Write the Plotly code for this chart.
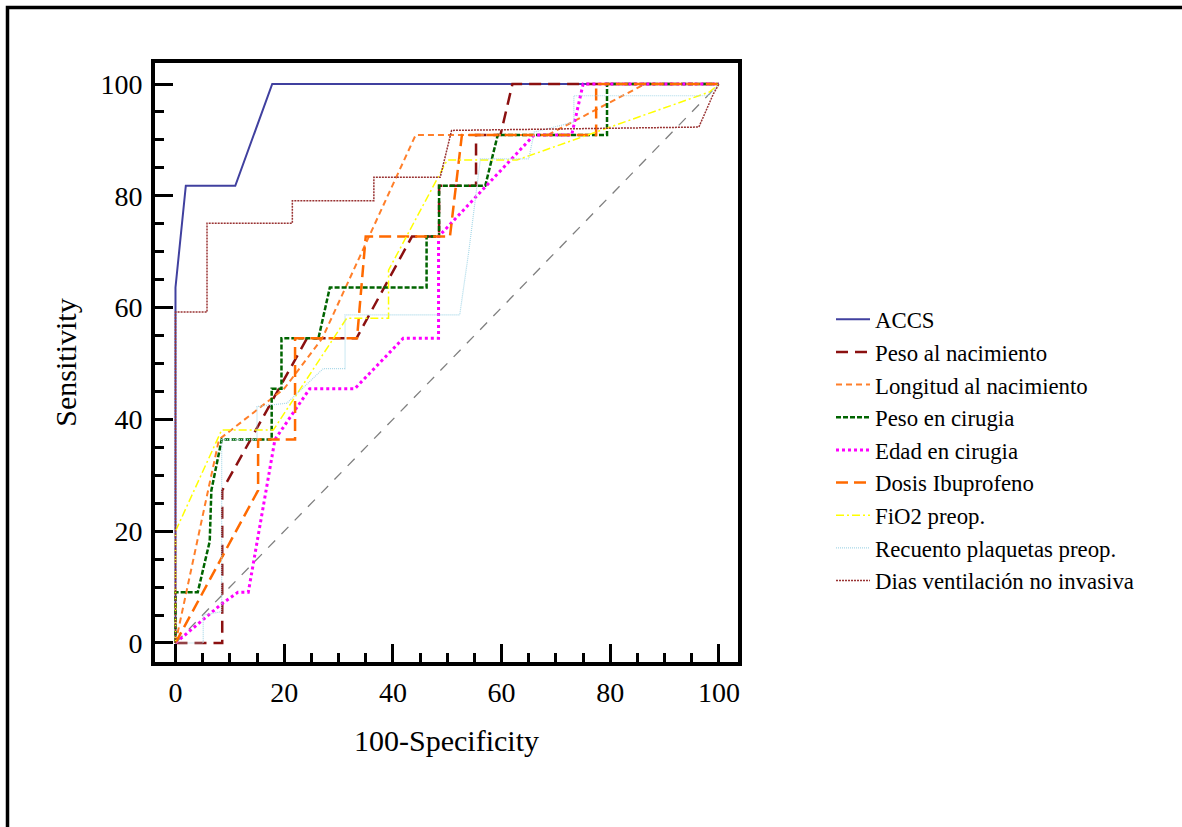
import plotly.graph_objects as go

# ROC curves: x = 100 - specificity, y = sensitivity (both in %)
accs_x = [0, 0, 1.9, 11, 17.8, 100]
accs_y = [0, 63.6, 81.8, 81.8, 100, 100]

peso_nac_x = [0, 8.6, 8.6, 24.2, 33.3, 43.5, 48.5, 48.5, 55.3, 55.3, 59.8, 62, 100]
peso_nac_y = [0, 0, 27.3, 54.5, 54.5, 72.7, 72.7, 81.8, 81.8, 90.9, 90.9, 100, 100]

longitud_x = [0, 8, 20, 27, 44.2, 68.5, 86.4, 100]
longitud_y = [0, 36.4, 45.5, 54.5, 90.9, 90.9, 100, 100]

peso_cir_x = [0, 0, 4.1, 6.3, 6.6, 8.5, 17.7, 17.7, 19.5, 19.5, 26.3, 28.4, 46.2, 46.2,
              48.5, 48.5, 57, 59.3, 79.4, 79.4, 100]
peso_cir_y = [0, 9.1, 9.1, 18.2, 27.3, 36.4, 36.4, 45.5, 45.5, 54.5, 54.5, 63.6, 63.6, 72.7,
              72.7, 81.8, 81.8, 90.9, 90.9, 100, 100]

edad_x = [0, 8.5, 11.5, 13.4, 18.3, 24.7, 33, 41.9, 48.4, 48.4, 66, 72.9, 75, 100]
edad_y = [0, 7, 9.1, 9.1, 36.4, 45.5, 45.5, 54.5, 54.5, 72.7, 90.9, 90.9, 100, 100]

dosis_x = [0, 15.2, 15.2, 22, 22, 33.4, 35, 50.5, 52.7, 77.4, 77.4, 100]
dosis_y = [0, 27.3, 36.4, 36.4, 54.5, 54.5, 72.7, 72.7, 90.9, 90.9, 100, 100]

fio2_x = [0, 0, 8.5, 18, 31.5, 39.2, 39.2, 50, 62.8, 98.3, 100]
fio2_y = [0, 20, 38.1, 38.1, 58.1, 58.1, 66.7, 86.4, 86.4, 98.6, 100]

plaquetas_x = [0, 5.1, 5.1, 8.5, 8.5, 15, 15, 20.5, 27.2, 31.2, 31.2, 52.3, 54, 56.1, 65, 66,
               73.3, 73.3, 98, 100]
plaquetas_y = [0, 0, 5, 5.6, 36.4, 36.4, 42.3, 42.9, 49.1, 49.1, 58.7, 58.7, 70.3, 86.6, 86.6,
               91.4, 93.2, 97.9, 97.9, 100]

dias_x = [0, 0, 5.8, 5.8, 21.5, 21.5, 36.5, 36.5, 48.7, 50.8, 96.3, 99, 100]
dias_y = [0, 59.2, 59.2, 75.1, 75.1, 79.1, 79.1, 83.3, 83.3, 91.7, 92.3, 98.3, 100]

ref_x = [0, 100]
ref_y = [0, 100]

series = [
    ("ACCS", accs_x, accs_y, "#40409F", "solid", 2),
    ("Peso al nacimiento", peso_nac_x, peso_nac_y, "#8B1010", "12px,7px", 2.5),
    ("Longitud al nacimiento", longitud_x, longitud_y, "#FF7F2A", "6px,4px", 2),
    ("Peso en cirugia", peso_cir_x, peso_cir_y, "#006400", "5px,2px", 2.5),
    ("Edad en cirugia", edad_x, edad_y, "#FF00FF", "3px,3px", 3),
    ("Dosis Ibuprofeno", dosis_x, dosis_y, "#FF6A00", "12px,6px", 2.5),
    ("FiO2 preop.", fio2_x, fio2_y, "#FFFF00", "8px,3px,2px,3px", 1.5),
    ("Recuento plaquetas preop.", plaquetas_x, plaquetas_y, "#A8D8E8", "1px,1px", 1.2),
    ("Dias ventilación no invasiva", dias_x, dias_y, "#993333", "2px,1px", 1.5),
]

SERIF = "Liberation Serif, Times New Roman, serif"

fig = go.Figure()

# chance line
fig.add_trace(go.Scatter(
    x=ref_x, y=ref_y, mode="lines", showlegend=False, hoverinfo="skip",
    line=dict(color="#7F7F7F", width=1.3, dash="10px,9px"),
))

for name, xs, ys, color, dash, width in series:
    fig.add_trace(go.Scatter(
        x=xs, y=ys, mode="lines", name=name,
        line=dict(color=color, width=width, dash=dash),
    ))

axis_common = dict(
    showgrid=False, zeroline=False,
    showline=True, linecolor="black", linewidth=4, mirror=True,
    ticks="inside", ticklen=18, tickwidth=2.5, tickcolor="black",
    minor=dict(ticks="inside", ticklen=9, tickwidth=2.5, tickcolor="black", dtick=5),
    tickfont=dict(family=SERIF, size=28, color="black"),
    tickmode="array", tickvals=[0, 20, 40, 60, 80, 100],
)

fig.update_xaxes(
    range=[-3.77, 103.5], ticklabelstandoff=2,
    title=dict(text="100-Specificity", font=dict(family=SERIF, size=30, color="black"), standoff=24),
    **axis_common,
)
fig.update_yaxes(
    range=[-3.4, 103.76], ticklabelstandoff=3,
    title=dict(text="Sensitivity", font=dict(family=SERIF, size=30, color="black"), standoff=16),
    **axis_common,
)

# outer frame around the figure
fig.add_shape(
    type="rect", xref="paper", yref="paper",
    x0=(7.5 - 155) / 583, x1=(1210 - 155) / 583,
    y0=(662 - 860) / 599, y1=(662 - 7.5) / 599,
    line=dict(color="black", width=3.5), fillcolor="rgba(0,0,0,0)", layer="below",
)

fig.update_layout(
    width=1182, height=827,
    margin=dict(l=155, r=444, t=63, b=165, autoexpand=False),
    paper_bgcolor="white", plot_bgcolor="white",
    showlegend=True,
    legend=dict(
        x=(831 - 155) / 583, xanchor="left",
        y=(662 - 298) / 599, yanchor="top",
        font=dict(family=SERIF, size=22.8, color="black"),
        bgcolor="rgba(0,0,0,0)", borderwidth=0,
        itemwidth=34,
    ),
)

fig.write_html("out.html")
